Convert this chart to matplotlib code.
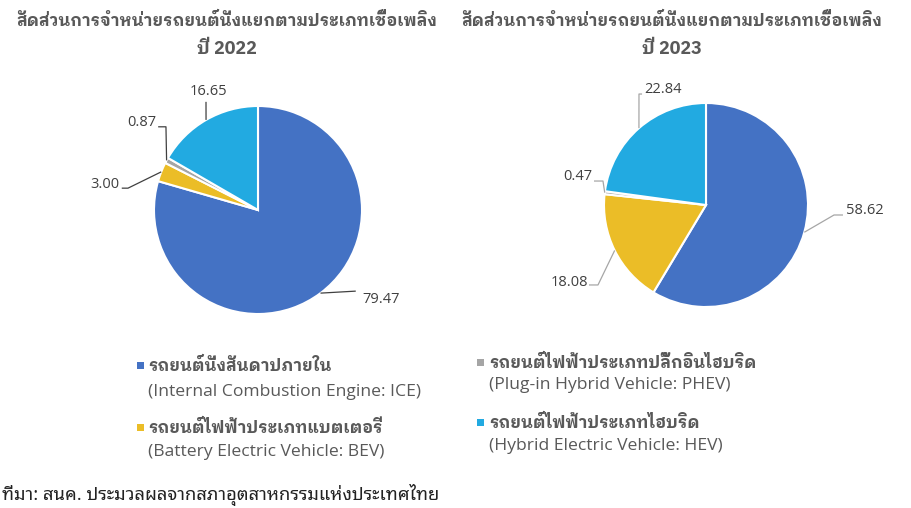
import matplotlib

matplotlib.use("Agg")
import numpy as np
import matplotlib.pyplot as plt
from matplotlib.patches import Rectangle

W, H = 912, 508
THAI = ["IBM Plex Sans Thai Looped", "Noto Sans Thai Looped", "Noto Sans", "DejaVu Sans"]
THAI_SRC = ["Noto Sans Thai Looped", "Noto Sans", "DejaVu Sans"]
LATIN = ["Open Sans", "DejaVu Sans"]
GREY_TXT = "#595959"

# data, in the order the slices are drawn (clockwise from 12 o'clock)
fuel_th = ["รถยนต์นั่งสันดาปภายใน", "รถยนต์ไฟฟ้าประเภทแบตเตอรี่",
           "รถยนต์ไฟฟ้าประเภทปลั๊กอินไฮบริด", "รถยนต์ไฟฟ้าประเภทไฮบริด"]
fuel_en = ["(Internal Combustion Engine: ICE)", "(Battery Electric Vehicle: BEV)",
           "(Plug-in Hybrid Vehicle: PHEV)", "(Hybrid Electric Vehicle: HEV)"]
share_2022 = [79.47, 3.00, 0.87, 16.65]
share_2023 = [58.62, 18.08, 0.47, 22.84]
colors = ["#4472c4", "#ebbd27", "#a5a5a5", "#22aae1"]
title = "สัดส่วนการจำหน่ายรถยนต์นั่งแยกตามประเภทเชื้อเพลิง"
source = "ที่มา: สนค. ประมวลผลจากสภาอุตสาหกรรมแห่งประเทศไทย"


def fx(px):
    return px / W


def fy(py):
    return 1 - py / H


def draw_pie(fig, cx, cy, r, shares):
    # square axes whose unit circle lands on (cx, cy) with radius r pixels
    half = 1.6 * r
    ax = fig.add_axes([fx(cx - half), fy(cy + half), 2 * half / W, 2 * half / H])
    wedges, _ = ax.pie(shares, colors=colors, startangle=90, counterclock=False,
                       wedgeprops=dict(edgecolor="white", linewidth=1.5))
    ax.set_xlim(-1.6, 1.6)
    ax.set_ylim(-1.6, 1.6)
    ax.set_aspect("equal")
    ax.axis("off")
    return ax, wedges


def leader(ax, wedge, path, text_xy, ha, value, line_color):
    mid = np.deg2rad((wedge.theta1 + wedge.theta2) / 2)
    xs = [np.cos(mid)] + [p[0] for p in path]
    ys = [np.sin(mid)] + [p[1] for p in path]
    ax.plot(xs, ys, color=line_color, lw=0.9, solid_capstyle="butt")
    ax.text(text_xy[0], text_xy[1], f"{value:.2f}", ha=ha, va="center",
            fontsize=10.5, color="#404040", family=LATIN)


fig = plt.figure(figsize=(W / 100, H / 100), dpi=100)

# 2022
ax1, w1 = draw_pie(fig, 258, 210, 104, share_2022)
dark = "#404040"
leader(ax1, w1[0], [(0.94, -0.78)], (1.00, -0.865), "left", share_2022[0], dark)
leader(ax1, w1[1], [(-1.25, 0.21), (-1.31, 0.21)], (-1.33, 0.25), "right", share_2022[1], dark)
leader(ax1, w1[2], [(-0.885, 0.80), (-0.96, 0.80)], (-0.98, 0.84), "right", share_2022[2], dark)
leader(ax1, w1[3], [(-0.50, 1.04)], (-0.48, 1.135), "center", share_2022[3], dark)

# 2023
ax2, w2 = draw_pie(fig, 706, 205, 102, share_2023)
light = "#a6a6a6"
leader(ax2, w2[0], [(1.255, -0.098), (1.343, -0.098)], (1.37, -0.05), "left", share_2023[0], light)
leader(ax2, w2[1], [(-1.059, -0.784), (-1.147, -0.784)], (-1.16, -0.755), "right", share_2023[1], light)
leader(ax2, w2[2], [(-1.01, 0.235), (-1.098, 0.235)], (-1.11, 0.275), "right", share_2023[2], light)
leader(ax2, w2[3], [(-0.657, 1.088), (-0.627, 1.088)], (-0.61, 1.137), "left", share_2023[3], light)

# titles
for cx, year in ((226.5, "2022"), (671.5, "2023")):
    fig.text(fx(cx), fy(20), title, ha="center", va="center", fontsize=12,
             fontweight="bold", color=GREY_TXT, family=THAI)
    fig.text(fx(cx), fy(49), f"ปี {year}", ha="center", va="center", fontsize=13,
             fontweight="bold", color=GREY_TXT, family=THAI)

# legend, two columns
slots = [(140, 365, 392), (140, 427, 452), (481, 362, 385), (481, 422, 446)]
for (sx, y1, y2), th, en, c in zip(slots, fuel_th, fuel_en, colors):
    fig.add_artist(Rectangle((fx(sx - 3.5), fy(y1 + 3.5)), 7 / W, 7 / H,
                             transform=fig.transFigure, color=c, lw=0))
    fig.text(fx(sx + 8), fy(y1), th, ha="left", va="center", fontsize=12,
             fontweight="bold", color=GREY_TXT, family=THAI)
    fig.text(fx(sx + 8), fy(y2), en, ha="left", va="center", fontsize=12.6,
             color=GREY_TXT, family=LATIN)

fig.text(fx(2), fy(495), source, ha="left", va="center", fontsize=13.2,
         color="#222222", family=THAI_SRC)

fig.savefig("out.png", dpi=100)
